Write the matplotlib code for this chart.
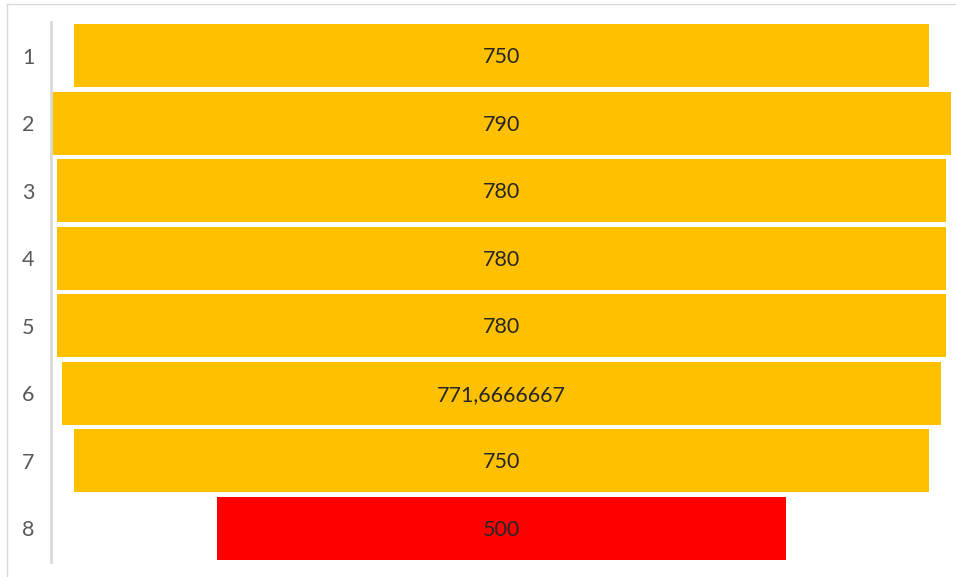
import matplotlib.pyplot as plt
from matplotlib.lines import Line2D

# funnel stages and values
stages = ['1', '2', '3', '4', '5', '6', '7', '8']
values = [750, 790, 780, 780, 780, 771.6666667, 750, 500]
labels = ['750', '790', '780', '780', '780', '771,6666667', '750', '500']
colors = ['#FFC000'] * 7 + ['#FF0000']

plt.rcParams['font.family'] = ['Lato', 'DejaVu Sans']

fig = plt.figure(figsize=(9.56, 5.77), dpi=100)
W, H = 956, 577
ax = fig.add_axes([51 / W, 1 - 562 / H, 901 / W, 540 / H])

y = list(range(len(stages)))
lefts = [-v / 2 for v in values]
ax.barh(y, values, left=lefts, height=0.94, color=colors, edgecolor='none')

for yi, lab in zip(y, labels):
    ax.text(0, yi + 0.02, lab, ha='center', va='center', fontsize=15.5, color='#262626')

ax.set_xlim(-395.5, 395.5)
ax.set_ylim(len(stages) - 0.5, -0.5)
ax.set_yticks(y)
ax.set_yticklabels(stages, fontsize=15.5, color='#595959')
ax.tick_params(axis='y', length=0, pad=12)
ax.set_xticks([])
for side in ['top', 'right', 'bottom']:
    ax.spines[side].set_visible(False)
ax.spines['left'].set_color('#D9D9D9')
ax.spines['left'].set_linewidth(2)

# chart frame (only top and left visible in the crop)
fig.add_artist(Line2D([7 / W, 1], [1 - 4 / H, 1 - 4 / H], color='#D9D9D9', lw=1))
fig.add_artist(Line2D([7 / W, 7 / W], [0, 1 - 4 / H], color='#D9D9D9', lw=1))

fig.savefig('out.png', dpi=100)
